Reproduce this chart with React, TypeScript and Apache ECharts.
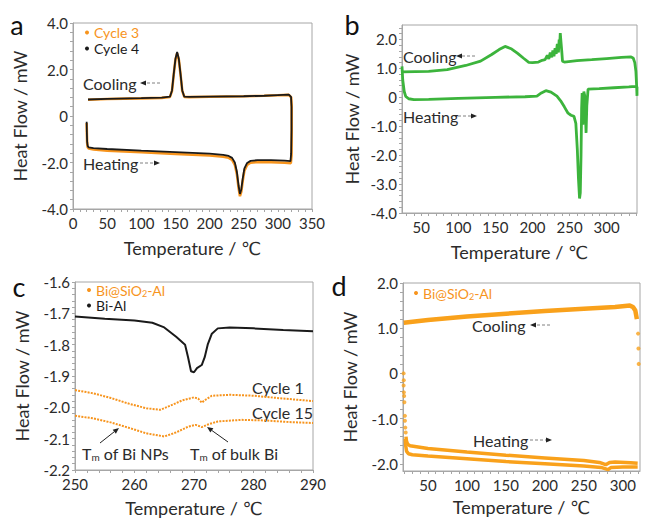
import React, { useEffect, useRef } from 'react';
import * as echarts from 'echarts';

// ---------------- Panel a (Cycle 3 / Cycle 4) ----------------
const aCycle3Heating = [[20,-0.3],[20.3,-0.75],[20.7,-1.15],[21.5,-1.34],[23,-1.4],[30,-1.44],[50,-1.49],[100,-1.56],[150,-1.63],[200,-1.7],[220,-1.75],[228,-1.8],[233,-1.89],[237,-2.1],[240,-2.5],[242.5,-3.1],[244.5,-3.45],[246.5,-3.25],[248.5,-2.8],[251,-2.35],[255,-2.1],[260,-2.01],[270,-1.98],[290,-1.99],[310,-2.01],[319,-2.03]];
const aCycle3Cooling = [[320,-1.7],[320.3,-0.6],[320.3,0.4],[319.5,0.8],[316,0.91],[300,0.89],[280,0.87],[250,0.85],[200,0.83],[170,0.81],[163,0.82],[160,1.08],[157.5,1.78],[155,2.42],[152.5,2.7],[150,2.42],[147.5,1.78],[145,1.08],[142,0.82],[130,0.78],[100,0.76],[50,0.73],[22,0.7]];
const aCycle4Heating = [[20,-0.25],[20.3,-0.7],[20.7,-1.1],[21.5,-1.29],[23,-1.35],[30,-1.38],[50,-1.42],[100,-1.49],[150,-1.55],[200,-1.62],[220,-1.67],[228,-1.72],[233,-1.8],[237,-2.0],[240,-2.4],[242.5,-3.0],[244.5,-3.35],[246.5,-3.15],[248.5,-2.7],[251,-2.25],[255,-2.02],[260,-1.93],[270,-1.9],[290,-1.9],[310,-1.92],[318.5,-1.94]];
const aCycle4Cooling = [[319.5,-1.6],[320,-0.6],[320,0.4],[319.3,0.82],[316,0.92],[300,0.9],[280,0.87],[250,0.85],[200,0.83],[170,0.82],[163,0.83],[160,1.1],[157.5,1.8],[155,2.45],[152.5,2.75],[150,2.45],[147.5,1.8],[145,1.1],[142,0.83],[130,0.79],[100,0.77],[50,0.74],[22,0.71]];
const aXLabels = [0, 50, 100, 150, 200, 250, 300, 350];
const aYLabels = [-4, -2, 0, 2, 4];

// ---------------- Panel b (green) ----------------
const bHeating = [[24,1.07],[25,0.6],[27,0.2],[29,0.03],[33,-0.05],[40,-0.08],[60,-0.07],[100,-0.04],[150,0.0],[190,0.02],[206,0.04],[212,0.15],[218,0.23],[225,0.18],[233,0.04],[238,-0.12],[243,-0.33],[248,-0.55],[252,-0.62],[256,-0.66],[258.5,-0.9],[260.5,-1.8],[262,-2.8],[263.5,-3.5],[264.5,-3.3],[265.5,-2.0],[266.3,-0.4],[267,0.15],[268,-0.95],[269.3,0.2],[270.5,0.05],[271.5,-0.6],[272.3,-1.23],[273.3,-0.3],[275,0.28],[290,0.3],[310,0.33],[330,0.36],[339,0.38],[341,0.36]];
const bCooling = [[341,0.05],[340.5,0.4],[339.5,0.9],[338,1.2],[336,1.35],[333,1.4],[320,1.38],[300,1.34],[280,1.3],[260,1.27],[243,1.22],[240.5,1.25],[239.5,1.6],[238.5,1.9],[237.5,2.22],[236.5,1.7],[236,2.0],[235,1.55],[233.5,1.85],[232,1.5],[230.5,1.7],[229,1.42],[227.5,1.62],[226,1.38],[224,1.55],[222,1.33],[220,1.45],[217,1.3],[213,1.28],[208,1.22],[200,1.2],[195,1.21],[188,1.35],[180,1.52],[172,1.67],[163,1.76],[155,1.65],[145,1.48],[130,1.25],[110,1.1],[85,0.96],[60,0.9],[24,0.88]];
const bXLabels = [50, 100, 150, 200, 250, 300];
const bYLabels = [-4, -3, -2, -1, 0, 1, 2];

// ---------------- Panel c ----------------
const cBiAl = [[250,-1.71],[255,-1.717],[260,-1.723],[263,-1.73],[265,-1.745],[267,-1.775],[268.5,-1.8],[269,-1.84],[269.5,-1.885],[270,-1.888],[270.5,-1.875],[271.3,-1.865],[271.8,-1.84],[272.3,-1.8],[273,-1.765],[274,-1.748],[276,-1.745],[280,-1.748],[285,-1.753],[290,-1.757]];
const cCycle1 = [[250,-1.945],[253,-1.955],[256,-1.97],[259,-1.988],[262,-2.003],[264.3,-2.008],[266,-1.995],[268,-1.978],[270,-1.968],[270.7,-1.972],[271.3,-1.985],[272,-1.975],[273,-1.963],[276,-1.96],[280,-1.963],[285,-1.972],[290,-1.98]];
const cCycle15 = [[250,-2.027],[253,-2.035],[256,-2.048],[259,-2.065],[262,-2.083],[265,-2.093],[267,-2.08],[269,-2.062],[270.3,-2.056],[271.3,-2.063],[272.3,-2.055],[274,-2.045],[278,-2.04],[282,-2.042],[286,-2.047],[290,-2.05]];
const cXLabels = [250, 260, 270, 280, 290];
const cYLabels = [-2.2, -2.1, -2.0, -1.9, -1.8, -1.7, -1.6];

// ---------------- Panel d ----------------
const dCooling = [[318,1.2],[316,1.39],[313,1.47],[309,1.5],[290,1.47],[250,1.43],[200,1.38],[150,1.32],[100,1.26],[50,1.18],[19,1.12]];
const dCoolingDrop = [[319.5,0.88],[320,0.55],[320.3,0.21]];
const dHeatingStart = [[18.8,0.0],[19,-0.15],[18.8,-0.27],[19.2,-0.42],[19.5,-0.5],[19.8,-0.64],[20.5,-0.94],[20.5,-1.05],[21,-1.2],[21.5,-1.31]];
const dHeating1 = [[21.8,-1.4],[22.5,-1.5],[24,-1.57],[27,-1.6],[50,-1.66],[100,-1.74],[150,-1.81],[200,-1.87],[250,-1.93],[270,-1.97],[278,-2.02],[283,-1.97],[290,-1.96],[310,-1.98],[319,-1.99]];
const dHeating2 = [[21,-1.45],[21.5,-1.6],[22.5,-1.72],[25,-1.78],[30,-1.8],[50,-1.83],[100,-1.89],[150,-1.95],[200,-2.0],[250,-2.05],[272,-2.08],[281,-2.13],[285,-2.08],[300,-2.07],[319,-2.07]];
const dXLabels = [50, 100, 150, 200, 250, 300];
const dYLabels = [-2, -1, 0, 1, 2];

const FONT = "Lato, 'DejaVu Sans', sans-serif";
const ORANGE = '#f7941d';
const ORANGE_D = '#f9a11b';
const GREEN = '#3cb43c';
const BLACK = '#1a1a1a';
const AXIS = '#a6a6a6';
const TXT = '#2b2b2b';

function range(a: number, b: number, step: number) {
  const out: number[] = [];
  for (let i = 0; a + i * step <= b + 1e-9; i++) out.push(Math.round((a + i * step) * 1000) / 1000);
  return out;
}

const yFmt = (v: number) => (Math.abs(v) < 1e-9 ? '0' : v.toFixed(1));

function xAx(gridIndex: number, min: number, max: number, labels: number[], ticks: number[], nameGap: number) {
  return {
    gridIndex, type: 'value', min, max,
    name: 'Temperature / ℃', nameLocation: 'middle', nameGap,
    nameTextStyle: { fontSize: 18, color: TXT, fontFamily: FONT },
    axisLine: { show: true, onZero: false, lineStyle: { color: AXIS, width: 1 } },
    axisTick: { show: true, length: 3, customValues: ticks, lineStyle: { color: AXIS } },
    axisLabel: { customValues: labels, margin: 6, fontSize: 15, color: TXT, fontFamily: FONT },
    splitLine: { show: false },
  };
}
function yAx(gridIndex: number, min: number, max: number, labels: number[], ticks: number[], nameGap: number) {
  return {
    gridIndex, type: 'value', min, max,
    name: 'Heat Flow / mW', nameLocation: 'middle', nameGap,
    nameTextStyle: { fontSize: 18, color: TXT, fontFamily: FONT },
    axisLine: { show: true, onZero: false, lineStyle: { color: AXIS, width: 1 } },
    axisTick: { show: true, length: 3, customValues: ticks, lineStyle: { color: AXIS } },
    axisLabel: { customValues: labels, margin: 5, fontSize: 15, color: TXT, fontFamily: FONT, formatter: yFmt },
    splitLine: { show: false },
  };
}

function line(name: string, idx: number, data: number[][], color: string, width: number, extra: any = {}) {
  return {
    name, type: 'line', xAxisIndex: idx, yAxisIndex: idx, data, showSymbol: false, symbol: 'circle',
    lineStyle: { color, width, ...(extra.lineStyle || {}) }, itemStyle: { color }, z: extra.z || 2, clip: true,
  };
}

function arrow(x1: number, y1: number, x2: number, y2: number, dashed: boolean) {
  const ang = Math.atan2(y2 - y1, x2 - x1);
  const L = 6, W = 2.6;
  const bx = x2 - L * Math.cos(ang), by = y2 - L * Math.sin(ang);
  const px = -Math.sin(ang) * W, py = Math.cos(ang) * W;
  return [
    { type: 'line', shape: { x1, y1, x2: bx, y2: by }, style: { stroke: dashed ? '#808080' : '#222', lineWidth: 1, lineDash: dashed ? [3, 2] : null } },
    { type: 'polygon', shape: { points: [[x2, y2], [bx + px, by + py], [bx - px, by - py]] }, style: { fill: '#222' } },
  ];
}
function label(text: string, x: number, y: number, size = 16, color = TXT) {
  return { type: 'text', x, y, style: { text, fontSize: size, fontFamily: FONT, fill: color, align: 'left', verticalAlign: 'middle' } };
}
const tmRich = {
  n: { fontSize: 16, fontFamily: FONT, fill: TXT, lineHeight: 18 },
  s: { fontSize: 10, fontFamily: FONT, fill: TXT, verticalAlign: 'bottom', lineHeight: 18 },
};

export default function App() {
  const ref = useRef<HTMLDivElement>(null);
  useEffect(() => {
    if (!ref.current) return;
    const chart = echarts.init(ref.current, undefined, { renderer: 'svg' });
    const grid = [
      { left: 73, top: 23, width: 239, height: 186 },
      { left: 402, top: 25, width: 235, height: 188 },
      { left: 75, top: 282, width: 238, height: 188 },
      { left: 403, top: 283, width: 237, height: 188 },
    ].map((g) => ({ ...g, show: true, borderColor: AXIS, borderWidth: 1, backgroundColor: 'transparent', containLabel: false }));

    const legendText = { fontSize: 14, fontFamily: FONT };
    const subRich = {
      t: { fontSize: 14, fontFamily: FONT, color: ORANGE, lineHeight: 15 },
      s: { fontSize: 9, fontFamily: FONT, color: ORANGE, verticalAlign: 'bottom', lineHeight: 15 },
    };
    const legFmt = (n: string) => (n === 'Bi@SiO2-Al' ? '{t|Bi@SiO}{s|2}{t|-Al}' : n);

    const option: any = {
      animation: false,
      grid,
      xAxis: [
        xAx(0, 0, 350, aXLabels, range(0, 350, 10), 30),
        xAx(1, 24, 341, bXLabels, range(30, 340, 10), 30),
        xAx(2, 250, 290, cXLabels, range(250, 290, 2), 29),
        xAx(3, 18, 322, dXLabels, range(20, 320, 10), 27),
      ],
      yAxis: [
        yAx(0, -4, 4, aYLabels, range(-4, 4, 0.4), 44),
        yAx(1, -4, 2.5, bYLabels, range(-4, 2.4, 0.2), 41),
        yAx(2, -2.2, -1.6, cYLabels, range(-2.2, -1.6, 0.02), 44),
        yAx(3, -2.16, 2, dYLabels, range(-2, 2, 0.2), 44),
      ],
      legend: [
        { orient: 'vertical', left: 85, top: 25.5, padding: 0, itemGap: 2, itemWidth: 4, itemHeight: 4, icon: 'circle', selectedMode: false, textStyle: legendText,
          data: [{ name: 'Cycle 3', textStyle: { color: ORANGE } }, { name: 'Cycle 4', textStyle: { color: BLACK } }] },
        { orient: 'vertical', left: 87, top: 283, padding: 0, itemGap: 1, itemWidth: 4, itemHeight: 4, icon: 'circle', selectedMode: false,
          textStyle: { ...legendText, rich: subRich }, formatter: legFmt,
          data: [{ name: 'Bi@SiO2-Al', textStyle: { color: ORANGE } }, { name: 'Bi-Al', textStyle: { color: BLACK } }] },
        { orient: 'vertical', left: 414, top: 286, padding: 0, itemWidth: 4, itemHeight: 4, icon: 'circle', selectedMode: false,
          textStyle: { ...legendText, rich: subRich }, formatter: legFmt,
          data: [{ name: 'Bi@SiO2-Al', textStyle: { color: ORANGE } }] },
      ],
      series: [
        line('Cycle 3', 0, [...aCycle3Heating, ...aCycle3Cooling], ORANGE, 2.6),
        line('Cycle 4', 0, [...aCycle4Heating, ...aCycle4Cooling], BLACK, 1.8, { z: 3 }),
        line('Cooling/Heating', 1, [...bHeating, ...bCooling], GREEN, 2.8),
        line('Bi-Al', 2, cBiAl, BLACK, 2),
        line('Bi@SiO2-Al', 2, cCycle1, ORANGE, 2, { lineStyle: { type: [2, 1.2] } }),
        line('Bi@SiO2-Al', 2, cCycle15, ORANGE, 2, { lineStyle: { type: [2, 1.2] } }),
        line('Bi@SiO2-Al', 3, dCooling, ORANGE_D, 4.5),
        line('Bi@SiO2-Al', 3, dHeating1, ORANGE_D, 3.5),
        line('Bi@SiO2-Al', 3, dHeating2, ORANGE_D, 3.5),
        { name: 'Bi@SiO2-Al', type: 'scatter', xAxisIndex: 3, yAxisIndex: 3, data: [...dHeatingStart, ...dCoolingDrop], symbolSize: 4, itemStyle: { color: ORANGE_D } },
      ],
      graphic: [
        { type: 'text', x: 17, y: 24, style: { text: 'a', fontSize: 27, fontFamily: FONT, fill: '#111', align: 'center', verticalAlign: 'middle' } },
        { type: 'text', x: 352, y: 24, style: { text: 'b', fontSize: 27, fontFamily: FONT, fill: '#111', align: 'center', verticalAlign: 'middle' } },
        { type: 'text', x: 19, y: 286, style: { text: 'c', fontSize: 27, fontFamily: FONT, fill: '#111', align: 'center', verticalAlign: 'middle' } },
        { type: 'text', x: 339, y: 285, style: { text: 'd', fontSize: 27, fontFamily: FONT, fill: '#111', align: 'center', verticalAlign: 'middle' } },
        label('Cooling', 83, 83),
        ...arrow(160, 83, 140, 83, true),
        label('Heating', 83, 163),
        ...arrow(140, 163, 160, 163, true),
        label('Cooling', 403, 56),
        ...arrow(475, 56, 456, 56, true),
        label('Heating', 403, 116),
        ...arrow(458, 116, 477, 116, true),
        label('Cycle 1', 252, 387),
        label('Cycle 15', 252, 412),
        { type: 'text', x: 82, y: 453, style: { text: '{n|T}{s|m}{n| of Bi NPs}', rich: tmRich, fontSize: 16, fontFamily: FONT, fill: TXT, align: 'left', verticalAlign: 'middle' } },
        { type: 'text', x: 190, y: 453, style: { text: '{n|T}{s|m}{n| of bulk Bi}', rich: tmRich, fontSize: 16, fontFamily: FONT, fill: TXT, align: 'left', verticalAlign: 'middle' } },
        ...arrow(100, 443, 119, 428, false),
        ...arrow(228, 442, 207, 427, false),
        label('Cooling', 472, 325),
        ...arrow(550, 325, 530, 325, true),
        label('Heating', 473, 440),
        ...arrow(530, 440, 552, 440, true),
      ],
    };
    chart.setOption(option);
    return () => chart.dispose();
  }, []);
  return <div ref={ref} style={{ position: 'fixed', left: 0, top: 0, width: 651, height: 520, background: '#fff' }} />;
}
